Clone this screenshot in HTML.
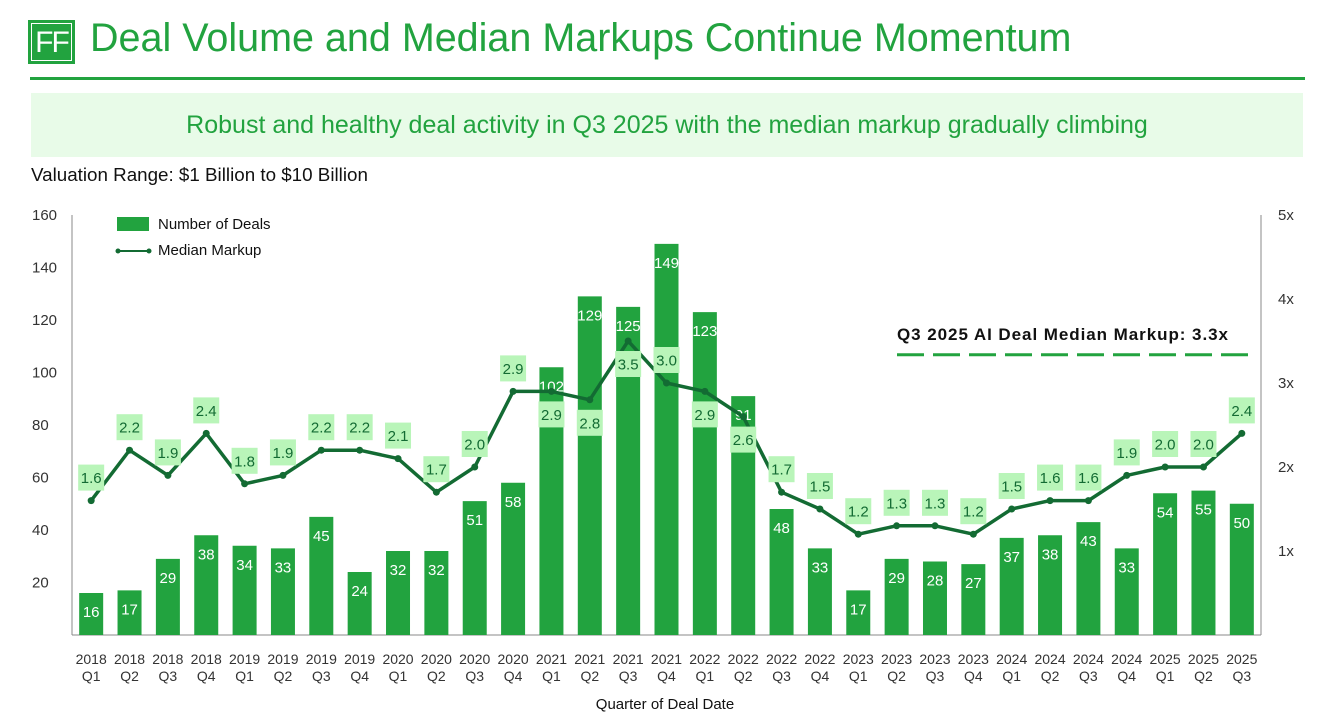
<!DOCTYPE html>
<html><head><meta charset="utf-8"><style>
body{margin:0;width:1319px;height:717px;background:#fff;font-family:"Liberation Sans",sans-serif;overflow:hidden;position:relative}
.abs{position:absolute}
</style></head><body>
<div class="abs" style="left:28px;top:20px;width:47px;height:44px;background:#22a33f;"><div style="position:absolute;left:3px;top:3px;right:3px;bottom:3px;border:1.5px solid #fff;color:#fff;font:30px 'Liberation Sans',sans-serif;text-align:center;line-height:38px;letter-spacing:-2px">FF</div></div>
<div class="abs" style="left:90px;top:16px;font-size:39.5px;color:#22a33f;white-space:nowrap">Deal Volume and Median Markups Continue Momentum</div>
<div class="abs" style="left:30px;top:77px;width:1275px;height:3px;background:#22a33f"></div>
<div class="abs" style="left:31px;top:93px;width:1272px;height:64px;background:#e8fbe8;color:#22a33f;font-size:25px;text-align:center;line-height:64px">Robust and healthy deal activity in Q3 2025 with the median markup gradually climbing</div>
<div class="abs" style="left:31px;top:164px;font-size:18.8px;color:#111">Valuation Range: $1 Billion to $10 Billion</div>
<svg class="abs" style="left:0;top:0" width="1319" height="717" id="chart"></svg>
<script>
const categories=["2018 Q1","2018 Q2","2018 Q3","2018 Q4","2019 Q1","2019 Q2","2019 Q3","2019 Q4","2020 Q1","2020 Q2","2020 Q3","2020 Q4","2021 Q1","2021 Q2","2021 Q3","2021 Q4","2022 Q1","2022 Q2","2022 Q3","2022 Q4","2023 Q1","2023 Q2","2023 Q3","2023 Q4","2024 Q1","2024 Q2","2024 Q3","2024 Q4","2025 Q1","2025 Q2","2025 Q3"];
const deals=[16,17,29,38,34,33,45,24,32,32,51,58,102,129,125,149,123,91,48,33,17,29,28,27,37,38,43,33,54,55,50];
const markups=[1.6,2.2,1.9,2.4,1.8,1.9,2.2,2.2,2.1,1.7,2.0,2.9,2.9,2.8,3.5,3.0,2.9,2.6,1.7,1.5,1.2,1.3,1.3,1.2,1.5,1.6,1.6,1.9,2.0,2.0,2.4];
const leftTicks=[20,40,60,80,100,120,140,160];
const rightTicks=[1,2,3,4,5];
const benchmark=3.3;
const belowIdx=[12,13,14,16,17];
const NS="http://www.w3.org/2000/svg";
const svg=document.getElementById('chart');
const L=72,R=1261,T=215,B=635;
const slot=(R-L)/categories.length;
const xc=i=>L+slot*(i+0.5);
const yL=v=>B-(B-T)*v/160;
const yR=v=>B-(B-T)*v/5;
function mk(tag,attrs,text){const e=document.createElementNS(NS,tag);for(const k in attrs)e.setAttribute(k,attrs[k]);if(text!==undefined)e.textContent=text;svg.appendChild(e);return e;}
let e=mk('line',{x1:L,y1:T,x2:L,y2:B,stroke:'#888','stroke-width':1});


e=mk('line',{x1:R,y1:T,x2:R,y2:B,stroke:'#888','stroke-width':1});


e=mk('line',{x1:L,y1:B,x2:R,y2:B,stroke:'#888','stroke-width':1});


leftTicks.forEach(t=>{const el=mk('text',{x:32,y:yL(t)+5,'font-size':15,fill:'#333'},t);

});
rightTicks.forEach(t=>{const el=mk('text',{x:1278,y:yR(t)+5,'font-size':15,fill:'#333'},t+'x');

});
deals.forEach((d,i)=>{const x=xc(i);
const b=mk('rect',{x:x-12,y:yL(d),width:24,height:B-yL(d),fill:'#22a33f'});


const t=mk('text',{x:x,y:yL(d)+24,'font-size':15,fill:'#fff','text-anchor':'middle'},d);


const parts=categories[i].split(' ');
const c1=mk('text',{x:x,y:664,'font-size':14,fill:'#333','text-anchor':'middle'},parts[0]);


const c2=mk('text',{x:x,y:681,'font-size':14,fill:'#333','text-anchor':'middle'},parts[1]);


});
e=mk('line',{x1:897,y1:yR(benchmark)-3,x2:1255,y2:yR(benchmark)-3,stroke:'#22a33f','stroke-width':3,'stroke-dasharray':'27,9'});


e=mk('text',{x:897,y:yR(benchmark)-18,'font-size':17,'font-weight':'bold',fill:'#111','textLength':331},'Q3 2025 AI Deal Median Markup: 3.3x');


const pts=markups.map((m,i)=>xc(i)+','+yR(m)).join(' ');
e=mk('polyline',{points:pts,fill:'none',stroke:'#136b33','stroke-width':3.5,'stroke-linejoin':'round'});


markups.forEach((m,i)=>{const x=xc(i),y=yR(m);
const c=mk('circle',{cx:x,cy:y,r:3.5,fill:'#136b33'});


const ly=belowIdx.includes(i)?y+23:y-23;
const r=mk('rect',{x:x-13,y:ly-13,width:26,height:26,fill:'#b9f5b9'});


const t=mk('text',{x:x,y:ly+5.5,'font-size':15,fill:'#136b33','text-anchor':'middle'},m.toFixed(1));


});
e=mk('rect',{x:117,y:217,width:32,height:14,fill:'#22a33f'});


e=mk('text',{x:158,y:229,'font-size':15,fill:'#111'},'Number of Deals');


e=mk('line',{x1:118,y1:251,x2:149,y2:251,stroke:'#136b33','stroke-width':2});


mk('circle',{cx:118,cy:251,r:2.5,fill:'#136b33'});mk('circle',{cx:149,cy:251,r:2.5,fill:'#136b33'});
e=mk('text',{x:158,y:255,'font-size':15,fill:'#111'},'Median Markup');


e=mk('text',{x:665,y:709,'font-size':15,fill:'#111','text-anchor':'middle'},'Quarter of Deal Date');


</script>
</body></html>
